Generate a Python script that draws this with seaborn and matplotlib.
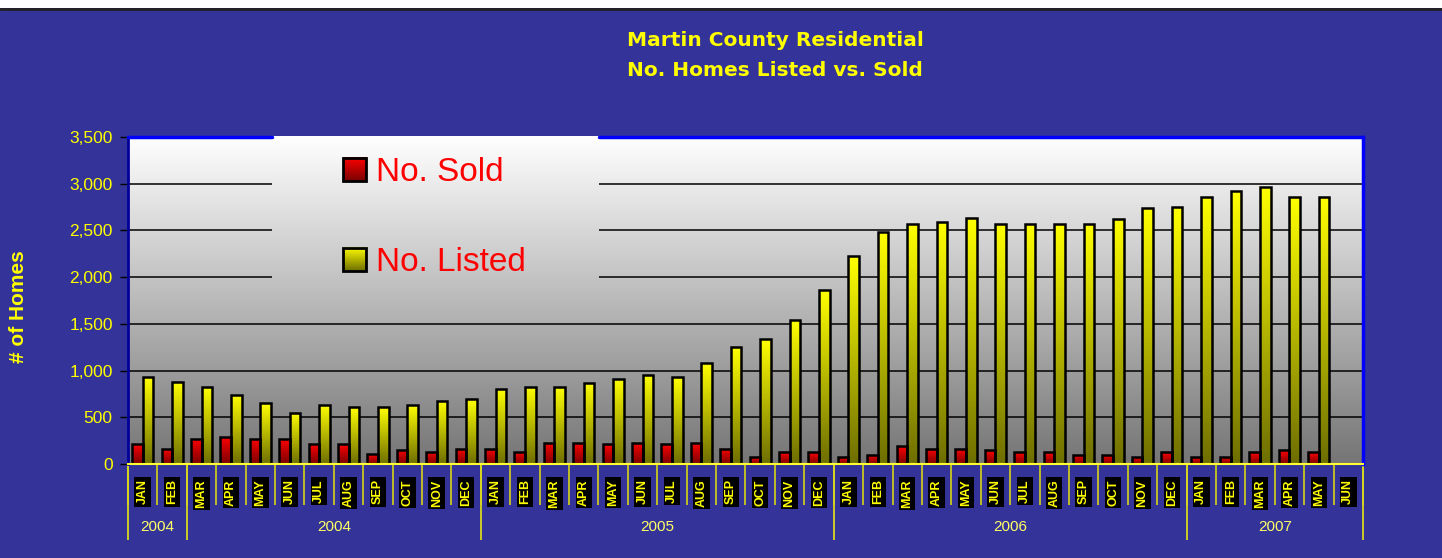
import numpy as np
import pandas as pd
import matplotlib
matplotlib.use("Agg")
import matplotlib.pyplot as plt
import seaborn as sns
from matplotlib.colors import LinearSegmentedColormap
from matplotlib.patches import Rectangle
from matplotlib.legend_handler import HandlerBase
from matplotlib.image import BboxImage
from matplotlib.transforms import Bbox, TransformedBbox
from matplotlib.ticker import FuncFormatter

# ---- data -------------------------------------------------------------
month_names = ["JAN", "FEB", "MAR", "APR", "MAY", "JUN",
               "JUL", "AUG", "SEP", "OCT", "NOV", "DEC"]
month_labels = month_names * 3 + month_names[:6]
month_years = [2004] * 12 + [2005] * 12 + [2006] * 12 + [2007] * 6

year_group_labels = ["2004", "2004", "2005", "2006", "2007"]
year_group_sizes = [2, 10, 12, 12, 6]

# monthly counts (June 2007 not yet reported)
homes_sold = [210, 165, 270, 290, 270, 270, 210, 210, 105, 150, 130, 165,
              165, 130, 230, 230, 210, 230, 210, 230, 165, 80, 125, 125,
              80, 100, 190, 165, 165, 145, 125, 125, 100, 100, 80, 125,
              80, 80, 125, 145, 125]
homes_listed = [930, 880, 825, 740, 650, 550, 635, 610, 610, 635, 675, 695,
                805, 825, 825, 870, 910, 955, 930, 1080, 1250, 1335, 1545, 1860,
                2225, 2480, 2565, 2590, 2630, 2565, 2565, 2565, 2565, 2625, 2735, 2755,
                2860, 2925, 2970, 2860, 2860]

series_names = ["No. Sold", "No. Listed"]

# ---- table -------------------------------------------------------------
keys = [f"{y}-{m}" for y, m in zip(month_years, month_labels)]
rows = []
for name, vals in zip(series_names, [homes_sold, homes_listed]):
    for k, v in zip(keys, vals):
        rows.append({"month": k, "homes": v, "series": name})
df = pd.DataFrame(rows)

# ---- style -------------------------------------------------------------
BG = "#333399"
YEL = "#ffff00"
sns.set_theme(style="white")
plt.rcParams["font.family"] = ["Liberation Sans", "DejaVu Sans"]

red_cmap = LinearSegmentedColormap.from_list("redgrad", ["#7a0000", "#ff0000"])
yel_cmap = LinearSegmentedColormap.from_list("yelgrad", ["#6e6e00", "#ffff00"])
bg_cmap = LinearSegmentedColormap.from_list("bggrad", ["#757575", "#ffffff"])
series_cmaps = [red_cmap, yel_cmap]

W, H = 1442, 558
fig = plt.figure(figsize=(W / 100, H / 100), dpi=100, facecolor=BG)
ax = fig.add_axes([128 / W, (H - 464) / H, (1363 - 128) / W, (464 - 137) / H])
ax.set_facecolor("none")

# white strip along the top edge of the slide
fig.patches.append(Rectangle((0, 1 - 8 / H), 1, 8 / H, transform=fig.transFigure,
                             facecolor="white", edgecolor="none", zorder=0))
fig.add_artist(plt.Line2D([0, 1], [1 - 8.5 / H, 1 - 8.5 / H], transform=fig.transFigure,
                          color="#222222", lw=2))

sns.barplot(data=df, x="month", y="homes", hue="series", order=keys,
            hue_order=series_names, palette=["#ff0000", "#ffff00"],
            width=0.72, edgecolor="black", linewidth=1.8, legend=False, ax=ax)

# plot-area gradient (white at top fading to grey)
grad = np.linspace(0, 1, 256).reshape(-1, 1)
ax.imshow(grad, extent=[0, 1, 0, 1], transform=ax.transAxes, origin="lower",
          cmap=bg_cmap, aspect="auto", interpolation="bicubic", zorder=0)
# patch of background behind the legend hides the gridlines there
cover = ax.imshow(grad, extent=[0, 1, 0, 1], transform=ax.transAxes, origin="lower",
                  cmap=bg_cmap, aspect="auto", interpolation="bicubic", zorder=0.8)
cover_rect = Rectangle((0.117, 0.50), 0.264, 0.51, transform=ax.transAxes)
cover.set_clip_path(cover_rect)

# vertical gradient fill inside every bar
bar_grad = np.linspace(0, 1, 128).reshape(-1, 1)
for container, cmap in zip(ax.containers, series_cmaps):
    for bar in container:
        h = bar.get_height()
        if not np.isfinite(h) or h <= 0:
            continue
        x0 = bar.get_x()
        w = bar.get_width()
        im = ax.imshow(bar_grad, extent=[x0, x0 + w, 0, h], origin="lower",
                       cmap=cmap, aspect="auto", interpolation="bicubic", zorder=2)
        im.set_clip_path(bar)
        bar.set_facecolor("none")
        bar.set_zorder(3)

ax.set_xlim(-0.5, len(keys) - 0.5)
ax.set_ylim(0, 3500)
ax.set_aspect("auto")

# grid and y axis
ax.set_axisbelow(True)
ax.yaxis.grid(True, color="black", lw=1.1)
ax.xaxis.grid(False)
ax.set_yticks(np.arange(0, 3501, 500))
ax.yaxis.set_major_formatter(FuncFormatter(lambda v, p: f"{int(v):,}"))
ax.tick_params(axis="y", left=True, length=6, width=1, color="black",
               labelcolor=YEL, labelsize=12.5, pad=5)
ax.set_ylabel("# of Homes", color=YEL, fontsize=15, fontweight="bold")
ax.yaxis.set_label_coords(-0.081, 0.48)

# spines
for s in ax.spines.values():
    s.set_visible(False)
ax.spines["left"].set_visible(True)
ax.spines["left"].set_color("#000099")
ax.spines["left"].set_linewidth(2)
ax.spines["right"].set_visible(True)
ax.spines["right"].set_color("#0000ff")
ax.spines["right"].set_linewidth(2.5)
ax.spines["bottom"].set_visible(True)
ax.spines["bottom"].set_color("#ffff33")
ax.spines["bottom"].set_linewidth(1.5)
ax.spines["bottom"].set_zorder(4)
for xs in ([0, 0.117], [0.381, 1.0]):
    ax.plot(xs, [1, 1], transform=ax.transAxes, color="#0000ff", lw=2.5,
            clip_on=False, zorder=4)

# month tick labels
ax.set_xticks(range(len(keys)))
ax.set_xticklabels(month_labels, rotation=90, color=YEL, fontsize=9,
                   fontweight="bold", ha="center", va="top")
for lbl in ax.get_xticklabels():
    lbl.set_bbox(dict(facecolor="black", edgecolor="none", pad=1.6))
ax.tick_params(axis="x", bottom=False, pad=5)
ax.set_xlabel("")

# category separators and year groups below the axis
xt = ax.get_xaxis_transform()
bounds = np.arange(len(keys) + 1) - 0.5
ax.vlines(bounds, -0.125, 0, transform=xt, colors="#c8c820", lw=1.3, clip_on=False)
edges = np.concatenate([[0], np.cumsum(year_group_sizes)]) - 0.5
ax.vlines(edges, -0.232, 0, transform=xt, colors="#d8d820", lw=1.3, clip_on=False)
for lab, a, b in zip(year_group_labels, edges[:-1], edges[1:]):
    ax.text((a + b) / 2, -0.193, lab, transform=xt, ha="center", va="center",
            color="#ffff66", fontsize=11)


# legend with gradient swatches
class GradientSwatch(HandlerBase):
    def __init__(self, cmap):
        super().__init__()
        self.cmap = cmap

    def create_artists(self, legend, orig_handle, xdescent, ydescent,
                       width, height, fontsize, trans):
        x0, y0 = -xdescent, -ydescent
        bb = TransformedBbox(Bbox.from_bounds(x0, y0, width, height), trans)
        img = BboxImage(bb, cmap=self.cmap, interpolation="bicubic")
        img.set_data(np.linspace(1, 0, 64).reshape(-1, 1))
        frame = Rectangle((x0, y0), width, height, facecolor="none",
                          edgecolor="black", lw=2, transform=trans)
        return [img, frame]


handles = list(ax.containers[:2])
leg = ax.legend(handles, series_names, loc="upper left",
                bbox_to_anchor=(0.174, 0.938), frameon=False, borderpad=0,
                borderaxespad=0, fontsize=24, labelspacing=1.76,
                handlelength=0.7, handleheight=0.7, handletextpad=0.3,
                handler_map={handles[0]: GradientSwatch(red_cmap),
                             handles[1]: GradientSwatch(yel_cmap)})
for t in leg.get_texts():
    t.set_color("#ff0000")
leg.set_zorder(5)

# title
for txt, ypix in (("Martin County Residential", 40), ("No. Homes Listed vs. Sold", 70)):
    fig.text(775 / W, 1 - ypix / H, txt, ha="center", va="center", color=YEL,
             fontsize=14.5, fontweight="bold", family=["DejaVu Sans"])

fig.savefig("out.png", dpi=100, facecolor=BG)
